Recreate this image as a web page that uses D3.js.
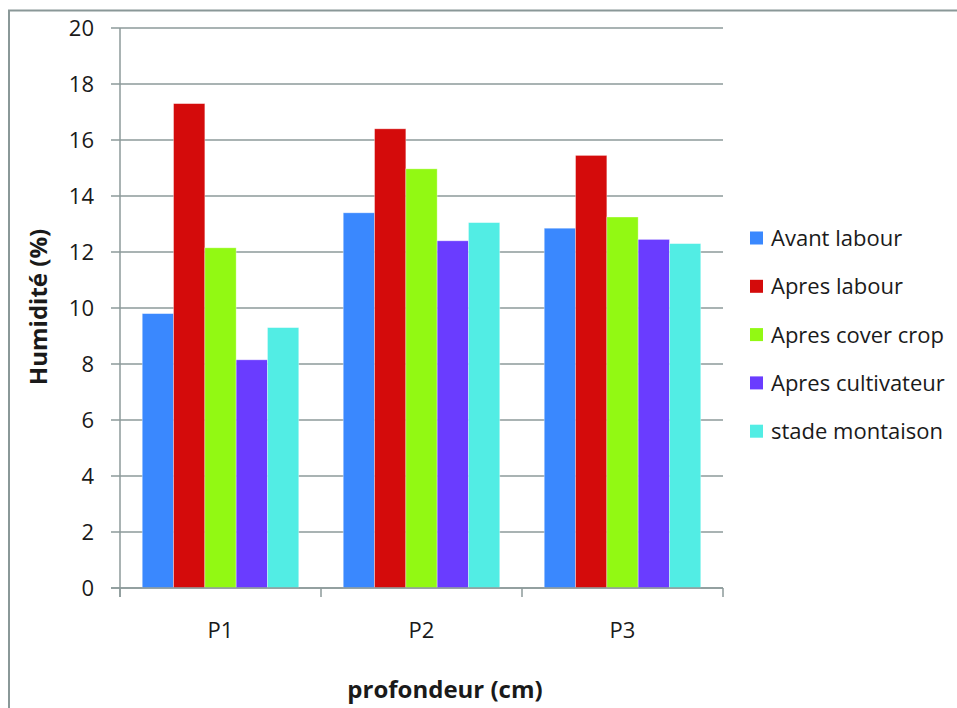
<!DOCTYPE html>
<html lang="fr">
<head>
    <meta charset="UTF-8">
    <title>Humidité par profondeur</title>
    <script src="https://d3js.org/d3.v7.min.js"></script>
    <style>
        body {
            margin: 0;
            background-color: white;
        }
        text {
            font-family: "Open Sans", "Noto Sans", sans-serif;
            fill: #1a1a1a;
        }
        .grid line {
            stroke: #8c9a9a;
            stroke-width: 1.5;
        }
        .axis-title {
            font-weight: bold;
            font-size: 24px;
        }
    </style>
</head>
<body>
    <script>
        const categories = ["P1", "P2", "P3"];
        const series = ["Avant labour", "Apres labour", "Apres cover crop", "Apres cultivateur", "stade montaison"];
        const colors = ["#3a88fe", "#d40b0b", "#92f913", "#6a3cff", "#52ede4"];
        // one array per series, values for P1, P2, P3
        const avantLabour = [9.8, 13.4, 12.85];
        const apresLabour = [17.3, 16.4, 15.45];
        const apresCoverCrop = [12.15, 14.97, 13.25];
        const apresCultivateur = [8.15, 12.4, 12.45];
        const stadeMontaison = [9.3, 13.05, 12.3];
        const values = [avantLabour, apresLabour, apresCoverCrop, apresCultivateur, stadeMontaison];
        const yTicks = [0, 2, 4, 6, 8, 10, 12, 14, 16, 18, 20];

        const width = 957, height = 708;
        const plotLeft = 120, plotRight = 723, plotTop = 28, plotBottom = 588;

        const svg = d3.select("body")
            .append("svg")
            .attr("width", width)
            .attr("height", height);

        // outer frame (only top and left edges are visible)
        svg.append("path")
            .attr("d", `M9,${height} V10.5 H${width}`)
            .attr("fill", "none")
            .attr("stroke", "#8a9898")
            .attr("stroke-width", 2);

        const y = d3.scaleLinear().domain([0, 20]).range([plotBottom, plotTop]);
        const x0 = d3.scaleBand().domain(categories).range([plotLeft, plotRight]);
        const x1 = d3.scaleBand().domain(series)
            .range([0, x0.bandwidth()])
            .paddingOuter(0.71);

        // horizontal gridlines + y ticks
        svg.append("g")
            .attr("class", "grid")
            .selectAll("line")
            .data(yTicks)
            .enter().append("line")
            .attr("x1", plotLeft - 9)
            .attr("x2", plotRight)
            .attr("y1", d => y(d))
            .attr("y2", d => y(d));

        svg.append("g")
            .selectAll("text")
            .data(yTicks)
            .enter().append("text")
            .attr("x", 94)
            .attr("y", d => y(d))
            .attr("dy", "0.36em")
            .attr("text-anchor", "end")
            .attr("font-size", 22)
            .text(d => d);

        // bars
        const groups = svg.append("g")
            .selectAll("g")
            .data(categories)
            .enter().append("g")
            .attr("transform", d => `translate(${x0(d)},0)`);

        groups.selectAll("rect")
            .data((d, i) => series.map((s, j) => ({ s: s, v: values[j][i], c: colors[j] })))
            .enter().append("rect")
            .attr("x", d => x1(d.s))
            .attr("width", x1.bandwidth())
            .attr("y", d => y(d.v))
            .attr("height", d => y(0) - y(d.v))
            .attr("fill", d => d.c)
            .attr("stroke", "rgba(255,255,255,0.45)")
            .attr("stroke-width", 0.8);

        // axes lines
        svg.append("line")
            .attr("x1", plotLeft).attr("x2", plotLeft)
            .attr("y1", plotTop).attr("y2", plotBottom + 9)
            .attr("stroke", "#8c9a9a").attr("stroke-width", 1.5);

        svg.append("line")
            .attr("x1", plotLeft - 9).attr("x2", plotRight)
            .attr("y1", plotBottom).attr("y2", plotBottom)
            .attr("stroke", "#8c9a9a").attr("stroke-width", 1.5);

        const xTickPos = categories.map(c => x0(c)).concat([plotRight]);
        svg.append("g")
            .selectAll("line")
            .data(xTickPos)
            .enter().append("line")
            .attr("x1", d => d).attr("x2", d => d)
            .attr("y1", plotBottom).attr("y2", plotBottom + 9)
            .attr("stroke", "#8c9a9a").attr("stroke-width", 1.5);

        // category labels
        svg.append("g")
            .selectAll("text")
            .data(categories)
            .enter().append("text")
            .attr("x", d => x0(d) + x0.bandwidth() / 2)
            .attr("y", 638)
            .attr("text-anchor", "middle")
            .attr("font-size", 22)
            .text(d => d);

        // axis titles
        svg.append("text")
            .attr("class", "axis-title")
            .attr("transform", "translate(47,307) rotate(-90)")
            .attr("text-anchor", "middle")
            .text("Humidité (%)");

        svg.append("text")
            .attr("class", "axis-title")
            .attr("x", 445)
            .attr("y", 698)
            .attr("text-anchor", "middle")
            .text("profondeur (cm)");

        // legend
        const legend = svg.append("g")
            .selectAll("g")
            .data(series)
            .enter().append("g")
            .attr("transform", (d, i) => `translate(750,${238 + i * 48.3})`);

        legend.append("rect")
            .attr("x", 0)
            .attr("y", -6.5)
            .attr("width", 13)
            .attr("height", 13)
            .attr("fill", (d, i) => colors[i]);

        legend.append("text")
            .attr("x", 21)
            .attr("dy", "0.36em")
            .attr("font-size", 22)
            .text(d => d);
    </script>
</body>
</html>
